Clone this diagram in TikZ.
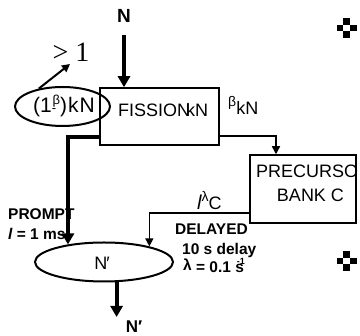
\documentclass[tikz,border=0pt]{standalone}
\usepackage{fontspec}
\setmainfont{Liberation Sans}
\newfontfamily\serifnum{Liberation Serif}
\usetikzlibrary{arrows.meta,shapes.geometric}
\begin{document}
\begin{tikzpicture}[x=1pt,y=-1pt,
  fs/.style={font=\fontsize{18}{18}\selectfont, inner sep=0pt},
  lab/.style={font=\fontsize{15.5}{15.5}\selectfont\bfseries, inner sep=0pt},
  boxnode/.style={draw, line width=1.5pt, inner sep=0pt},
  ell/.style={draw, ellipse, line width=2pt, inner sep=0pt},
  thickarr/.style={line width=4pt, -{Triangle[width=12pt,length=11pt]}},
  thinarr/.style={line width=1.5pt, -{Triangle[width=8pt,length=8pt]}},
]
\useasboundingbox (0,0) rectangle (360,336);
% boxes and ellipses
\node[boxnode, minimum width=119pt, minimum height=57pt] (fission) at (159.5,116.5) {};
\node[fs, anchor=base west] (fissiontxt) at (118,117) {FISSION\kern-4pt kN};
\node[boxnode, minimum width=106pt, minimum height=68pt] (prec) at (303,189) {};
\node[fs, anchor=base west] (prectxt) at (256,178) {PRECURSO};
\node[fs, anchor=base] (banktxt) at (310.5,202) {BANK C};
\node[ell, minimum width=95pt, minimum height=39pt] (lell) at (62.5,106.5) {};
\node[font=\fontsize{21}{21}\selectfont, inner sep=0pt, anchor=base west] (lelltxt) at (33,113) {(1{\fontsize{13}{13}\selectfont -\kern-3.5pt\raisebox{8pt}{β}})\kern1pt k\kern1pt N};
\node[ell, minimum width=138pt, minimum height=39pt] (lowell) at (104,262) {};
\node[fs, anchor=base] (nprime) at (102,270) {N\kern-1pt′};
% labels
\node[font=\fontsize{19}{19}\selectfont\bfseries, inner sep=0pt, anchor=base] (ntop) at (124,23) {N};
\node[font=\serifnum\fontsize{28}{28}\selectfont, inner sep=0pt, anchor=base] (gt) at (71,62) {> 1};
\node[font=\fontsize{17}{17}\selectfont\bfseries, inner sep=0pt, anchor=base] (nbot) at (134,333) {N′};
\node[lab, anchor=base west] (prompt) at (8,220) {PROMPT};
\node[lab, anchor=base west] (ptime) at (8,240) {{\itshape l} = 1 ms};
\node[lab, anchor=base west] (delayed) at (175,235) {DELAYED};
\node[lab, anchor=base west] (dly) at (182,255) {10 s delay};
\node[lab, anchor=base west] (lam) at (183,273) {\raisebox{2pt}{λ} = 0.1 s\kern-7pt\raisebox{8pt}{\fontsize{9}{9}\selectfont -1}};
\node[fs, anchor=base west] (lamc) at (197,210) {{\fontsize{20}{20}\selectfont\itshape l}\raisebox{8pt}{\fontsize{14}{14}\selectfont λ}C};
\node[fs, anchor=base west] (bkn) at (228,115) {\raisebox{8pt}{\fontsize{14}{14}\selectfont β}kN};
% coordinates
\coordinate (gtc) at (70,64);
\coordinate (nbend) at (116,317);
% connectors
\draw[thickarr] ([yshift=-12pt]ntop.south) -- (ntop.south |- fission.north);
\draw[thickarr] ([yshift=-20.5pt]fission.west) -| (lowell.154);
\draw[thinarr] ([yshift=-19.5pt]fission.east) -| ([xshift=-27pt]prec.north);
\draw[thinarr] ([yshift=-24pt]prec.west) -| (lowell.19);
\draw[thickarr] (lowell.-58) -- (lowell.-58 |- nbend);
\draw[line width=2pt, -{Triangle[width=8pt,length=8pt]}] (lell.143) -- (gtc);
% bullets
\foreach \cx/\cy in {347/28, 347/261} {
  \fill (\cx-3.5,\cy-10) rectangle (\cx+3.5,\cy-3.3);
  \fill (\cx-10,\cy-3.3) rectangle (\cx-3.5,\cy+3.3);
  \fill (\cx+3.5,\cy-3.3) rectangle (\cx+10,\cy+3.3);
  \fill (\cx-3.5,\cy+3.3) rectangle (\cx+3.5,\cy+10);
}
\end{tikzpicture}
\end{document}
